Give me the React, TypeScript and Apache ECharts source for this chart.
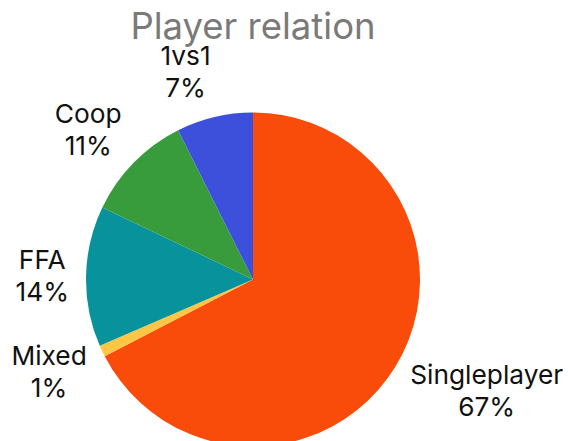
import React, { useEffect, useRef } from "react";
import * as echarts from "echarts";

const title = "Player relation";
const categories = ["Singleplayer", "Mixed", "FFA", "Coop", "1vs1"];
const values = [67.4, 1.1, 13.6, 10.5, 7.4];
const colors = ["#F94C0A", "#FFC645", "#08939C", "#389C3D", "#3D50DC"];

const CX = 253;
const CY = 279.5;
const R = 167;
const LABEL_R = 184;
const FONT = "Inter, 'Liberation Sans', sans-serif";

export default function App() {
  const ref = useRef<HTMLDivElement>(null);
  useEffect(() => {
    document.body.style.margin = "0";
    const chart = echarts.init(ref.current!, null, { renderer: "svg" });
    const total = values.reduce((a, b) => a + b, 0);
    chart.setOption({
      animation: false,
      title: {
        text: title,
        left: CX,
        top: 10,
        padding: 0,
        textAlign: "center",
        textStyle: {
          fontFamily: FONT,
          fontSize: 36.5,
          lineHeight: 32,
          fontWeight: "normal",
          color: "#7A7A7A",
        },
      },
      series: [
        {
          type: "pie",
          center: [CX, CY],
          radius: [0, R],
          startAngle: 90,
          clockwise: true,
          avoidLabelOverlap: false,
          percentPrecision: 0,
          data: categories.map((name, i) => ({
            name,
            value: values[i],
            itemStyle: { color: colors[i] },
          })),
          itemStyle: { borderWidth: 0 },
          emphasis: { disabled: true },
          label: {
            show: true,
            position: "outside",
            formatter: "{b}\n{d}%",
            fontFamily: FONT,
            fontSize: 26.3,
            lineHeight: 32,
            color: "#111",
          },
          labelLine: { show: false },
          labelLayout: (params: any) => {
            const i = params.dataIndex;
            const before = values.slice(0, i).reduce((a, b) => a + b, 0);
            const mid = ((before + values[i] / 2) / total) * Math.PI * 2;
            const dx = Math.sin(mid);
            const dy = -Math.cos(mid);
            const w = params.labelRect.width;
            const h = params.labelRect.height;
            return {
              x: CX + LABEL_R * dx + Math.sign(dx) * (w / 2),
              y: CY + LABEL_R * dy + dy * (h / 2) * 0.94,
              align: "center",
              verticalAlign: "middle",
            };
          },
        },
      ],
    });
    return () => chart.dispose();
  }, []);
  return <div ref={ref} style={{ width: 568, height: 441 }} />;
}
